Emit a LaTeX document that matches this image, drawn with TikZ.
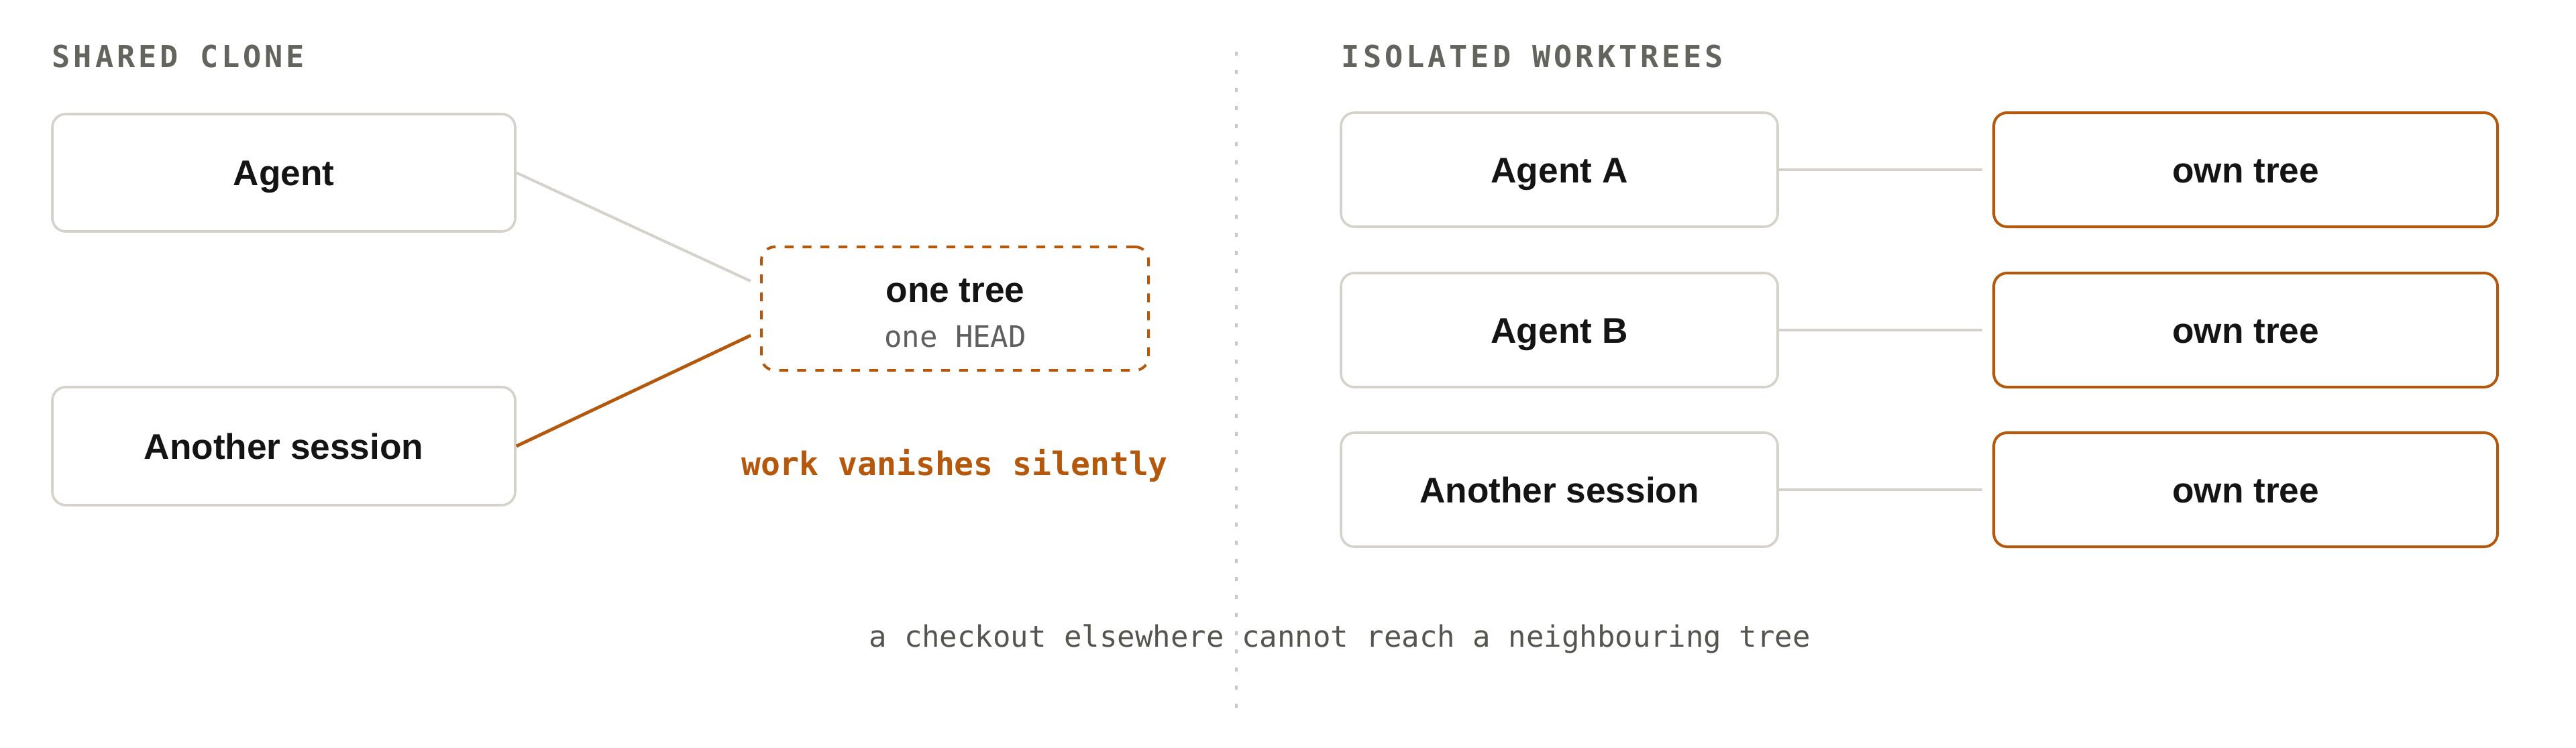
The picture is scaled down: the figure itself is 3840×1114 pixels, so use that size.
\documentclass[tikz,border=0pt]{standalone}
\usepackage{fontspec}
\usetikzlibrary{calc}
\setmainfont{Liberation Sans}
\newfontfamily\labfont{Liberation Sans}
\newfontfamily\monofont{DejaVu Sans Mono}
\newfontfamily\hdrfont{DejaVu Sans Mono}[LetterSpace=11]
\definecolor{accent}{RGB}{181,88,12}
\definecolor{boxgray}{RGB}{212,210,202}
\definecolor{hdrgray}{RGB}{100,100,95}
\definecolor{capgray}{RGB}{85,85,80}
\definecolor{subgray}{RGB}{95,95,95}
\definecolor{dotgray}{RGB}{200,200,198}
\definecolor{ink}{RGB}{20,20,20}
\tikzset{
  box/.style={draw=boxgray, line width=0.9pt, rounded corners=5pt, fill=white,
    inner sep=0pt, text=ink, text height=9.52pt, text depth=0pt,
    font=\labfont\bfseries\fontsize{13.3}{16}\selectfont},
  ownbox/.style={box, draw=accent, line width=1pt},
  onebox/.style={draw=accent, line width=1pt, rounded corners=5pt, dash pattern=on 3.3pt off 3.4pt, inner sep=0pt},
  graylink/.style={draw=boxgray, line width=1pt},
  hotlink/.style={draw=accent, line width=1.2pt},
  hdr/.style={anchor=base west, inner sep=0pt, text=hdrgray, font=\hdrfont\bfseries\fontsize{11.3}{13}\selectfont},
  divider/.style={draw=dotgray, line width=1pt, dash pattern=on 1.5pt off 5.25pt},
}
\begin{document}
\begin{tikzpicture}[x=0.25pt,y=-0.25pt]
\path[use as bounding box, fill=white] (0,0) rectangle (3840,1114);

% headers
\node[hdr] (hleft) at (77,100) {SHARED CLONE};
\node[hdr] (hright) at (1999,100) {ISOLATED WORKTREES};

% divider
\coordinate (divtop) at (1843,77);
\coordinate (divbot) at (1843,1073);
\draw[divider] (divtop) -- (divbot);

% left: shared clone
\node[box, minimum width=172.5pt, minimum height=43.75pt] (agent) at (423,257.5) {Agent};
\node[box, minimum width=172.5pt, minimum height=44pt] (another) at (423,665) {Another session};
\node[onebox, minimum width=144.25pt, minimum height=46pt] (tree) at (1423.5,460) {};
\node[anchor=base, inner sep=0pt, text=ink, font=\labfont\bfseries\fontsize{13.3}{16}\selectfont] (treelabel) at (1424,450) {one tree};
\node[anchor=base, inner sep=0pt, text=subgray, font=\monofont\fontsize{11}{13}\selectfont] (headlabel) at (1424,517) {one HEAD};
\coordinate (tinA) at ($(tree.west)+(-14,-41)$);
\coordinate (tinB) at ($(tree.west)+(-14,40)$);
\draw[graylink] (agent.east) -- (tinA);
\draw[hotlink] (another.east) -- (tinB);
\node[anchor=base, inner sep=0pt, text=accent, font=\monofont\bfseries\fontsize{12}{14}\selectfont] (vanish) at (1423,708) {work vanishes silently};

% right: isolated worktrees
\foreach \nm/\lab/\yy in {a/Agent A/253, b/Agent B/492, c/Another session/730}{
  \node[box, minimum width=162.75pt, minimum height=42.5pt] (ag\nm) at (2324.5,\yy) {\lab};
  \node[ownbox, minimum width=187.75pt, minimum height=42.5pt] (own\nm) at (3347.5,\yy) {own tree};
  \coordinate (in\nm) at ($(own\nm.west)+(-15,0)$);
  \draw[graylink] (ag\nm.east) -- (in\nm);
}

% caption
\node[anchor=base, inner sep=0pt, text=capgray, font=\monofont\fontsize{11}{13}\selectfont] (caption) at (1997,964) {a checkout elsewhere cannot reach a neighbouring tree};
\end{tikzpicture}
\end{document}
